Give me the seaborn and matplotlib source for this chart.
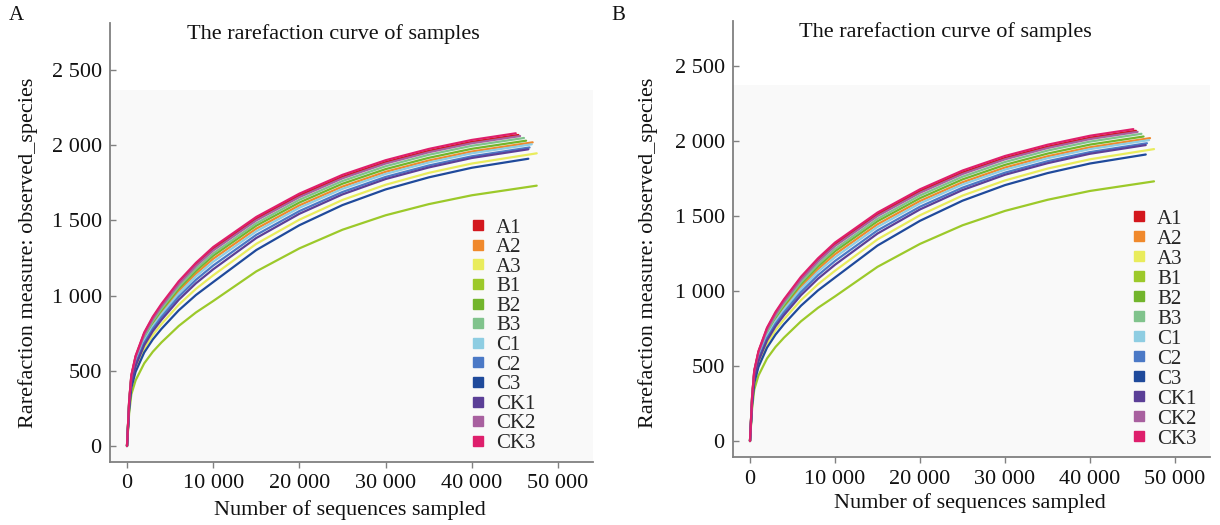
import numpy as np
import pandas as pd
import matplotlib
matplotlib.use("Agg")
import matplotlib.pyplot as plt
from matplotlib.lines import Line2D
import seaborn as sns

samples = ["A1", "A2", "A3", "B1", "B2", "B3", "C1", "C2", "C3", "CK1", "CK2", "CK3"]
colors = ["#d3171d", "#f0892c", "#e9ec5c", "#9cc92a", "#72b52c", "#80c38c",
          "#8ecde2", "#4b79c6", "#1f4a9b", "#5b3f97", "#a8609f", "#de1f6c"]

# common sampling depths (last point is each sample's own depth)
depth_grid = [0, 250, 500, 1000, 2000, 3000, 4000, 6000, 8000, 10000,
              15000, 20000, 25000, 30000, 35000, 40000]
end_depth = {"A1": 45400, "A2": 47060, "A3": 47530, "B1": 47530, "B2": 46300, "B3": 46050,
             "C1": 46950, "C2": 46700, "C3": 46560, "CK1": 46560, "CK2": 45600, "CK3": 45100}

obs_A1 = [0, 298, 466, 595, 749, 853, 937, 1086, 1208, 1312, 1511, 1666, 1790, 1887, 1962, 2022, 2068]
obs_A2 = [0, 282, 442, 565, 710, 809, 889, 1030, 1146, 1245, 1445, 1600, 1725, 1823, 1898, 1958, 2019]
obs_A3 = [0, 257, 403, 515, 648, 738, 811, 939, 1045, 1135, 1344, 1505, 1636, 1737, 1816, 1878, 1946]
obs_B1 = [0, 219, 343, 437, 550, 627, 689, 798, 888, 964, 1161, 1314, 1438, 1534, 1608, 1667, 1731]
obs_B2 = [0, 287, 449, 574, 722, 822, 903, 1047, 1164, 1265, 1465, 1619, 1744, 1841, 1916, 1976, 2030]
obs_B3 = [0, 290, 455, 581, 730, 832, 914, 1059, 1178, 1280, 1481, 1637, 1762, 1860, 1936, 1996, 2048]
obs_C1 = [0, 278, 435, 556, 699, 796, 875, 1014, 1128, 1225, 1427, 1584, 1710, 1809, 1885, 1946, 2006]
obs_C2 = [0, 272, 426, 544, 685, 780, 857, 993, 1105, 1200, 1404, 1562, 1689, 1789, 1865, 1926, 1985]
obs_C3 = [0, 247, 387, 494, 622, 709, 779, 902, 1004, 1090, 1303, 1468, 1602, 1706, 1786, 1850, 1910]
obs_CK1 = [0, 266, 417, 533, 670, 764, 839, 972, 1082, 1175, 1383, 1544, 1673, 1775, 1852, 1915, 1973]
obs_CK2 = [0, 295, 462, 590, 742, 845, 929, 1076, 1197, 1300, 1500, 1655, 1780, 1878, 1953, 2013, 2061]
obs_CK3 = [0, 300, 470, 600, 755, 860, 945, 1095, 1218, 1323, 1523, 1678, 1803, 1900, 1975, 2035, 2079]

obs = {"A1": obs_A1, "A2": obs_A2, "A3": obs_A3, "B1": obs_B1, "B2": obs_B2, "B3": obs_B3,
       "C1": obs_C1, "C2": obs_C2, "C3": obs_C3, "CK1": obs_CK1, "CK2": obs_CK2, "CK3": obs_CK3}

x_ticks = [0, 10000, 20000, 30000, 40000, 50000]
x_ticklabels = ["0", "10 000", "20 000", "30 000", "40 000", "50 000"]
y_ticks = [0, 500, 1000, 1500, 2000, 2500]
y_ticklabels = ["0", "500", "1 000", "1 500", "2 000", "2 500"]

rows = []
for s in samples:
    xs = depth_grid + [end_depth[s]]
    for xv, yv in zip(xs, obs[s]):
        rows.append({"sample": s, "depth": xv, "observed": yv})
df = pd.DataFrame(rows)
palette = dict(zip(samples, colors))

sns.set_theme(style="white")
plt.rcParams["font.family"] = ["Liberation Serif", "DejaVu Serif"]

fig = plt.figure(figsize=(12.2, 5.25), dpi=100)
W, H = 1220, 525
# (label, label pos, x0 px, px per 1000, y0 px, px per unit, spine left, spine right, top, bottom,
#  title pos, ylabel x, xlabel y, legend pos, legend spacing)
panels = [
    ("A", (16, 16), 127, 8.62, 446, 0.1504, 110, 593, 23, 462, (333, 34), 28, 510, (470, 218), 0.0),
    ("B", (618, 16), 750, 8.50, 441, 0.1500, 733, 1210, 21, 457, (945, 32), 648, 503, (1131, 209), 0.02),
]
gray = "#808080"
for (lab, lpos, x0, pxk, y0, pyu, l, r, t, b, tpos, ylx, xly, legpos, lsp) in panels:
    ax = fig.add_axes([l / W, (H - b) / H, (r - l) / W, (b - t) / H])
    ax.set_xlim((l - x0) / pxk * 1000, (r - x0) / pxk * 1000)
    ax.set_ylim(-(b - y0) / pyu, (y0 - t) / pyu)
    ax.axhspan(-(b - y0) / pyu, 2370, color="#f9f9f9", zorder=0, lw=0)
    sns.lineplot(data=df, x="depth", y="observed", hue="sample", hue_order=samples,
                 palette=palette, linewidth=1.6, ax=ax, legend=False, sort=False,
                 estimator=None)
    for sp in ["top", "right"]:
        ax.spines[sp].set_visible(False)
    for sp in ["left", "bottom"]:
        ax.spines[sp].set_color(gray)
        ax.spines[sp].set_linewidth(1.3)
    ax.set_xticks(x_ticks)
    ax.set_xticklabels(x_ticklabels)
    ax.set_yticks(y_ticks)
    ax.set_yticklabels(y_ticklabels)
    ax.tick_params(axis="x", direction="out", length=4, width=1, color=gray,
                   labelsize=16, labelcolor="#111111", pad=5, bottom=True)
    ax.tick_params(axis="y", direction="in", length=4, width=1, color=gray,
                   labelsize=16, labelcolor="#111111", pad=6, left=True)
    ax.set_xlabel("")
    ax.set_ylabel("")
    ax.grid(False)
    fig.text(lpos[0] / W, 1 - lpos[1] / H, lab, fontsize=15, ha="center", va="center", color="#111111")
    fig.text(tpos[0] / W, 1 - tpos[1] / H, "The rarefaction curve of samples", fontsize=16,
             ha="center", va="center", color="#111111")
    fig.text(ylx / W, 1 - 253 / H, "Rarefaction measure: observed_species", fontsize=16,
             rotation=90, ha="center", va="center", color="#111111")
    fig.text(((l + r) / 2 - 2) / W, 1 - xly / H, "Number of sequences sampled", fontsize=16,
             ha="center", va="center", color="#111111")
    handles = [Line2D([], [], linestyle="none", marker="s", markersize=7,
                      markerfacecolor=c, markeredgecolor=c) for c in colors]
    fig.legend(handles, samples, loc="upper left",
               bbox_to_anchor=(legpos[0] / W, 1 - legpos[1] / H), frameon=False,
               fontsize=15, handlelength=0.8, handletextpad=0.45, labelspacing=lsp,
               borderpad=0, borderaxespad=0)

fig.savefig("out.png", dpi=100)
